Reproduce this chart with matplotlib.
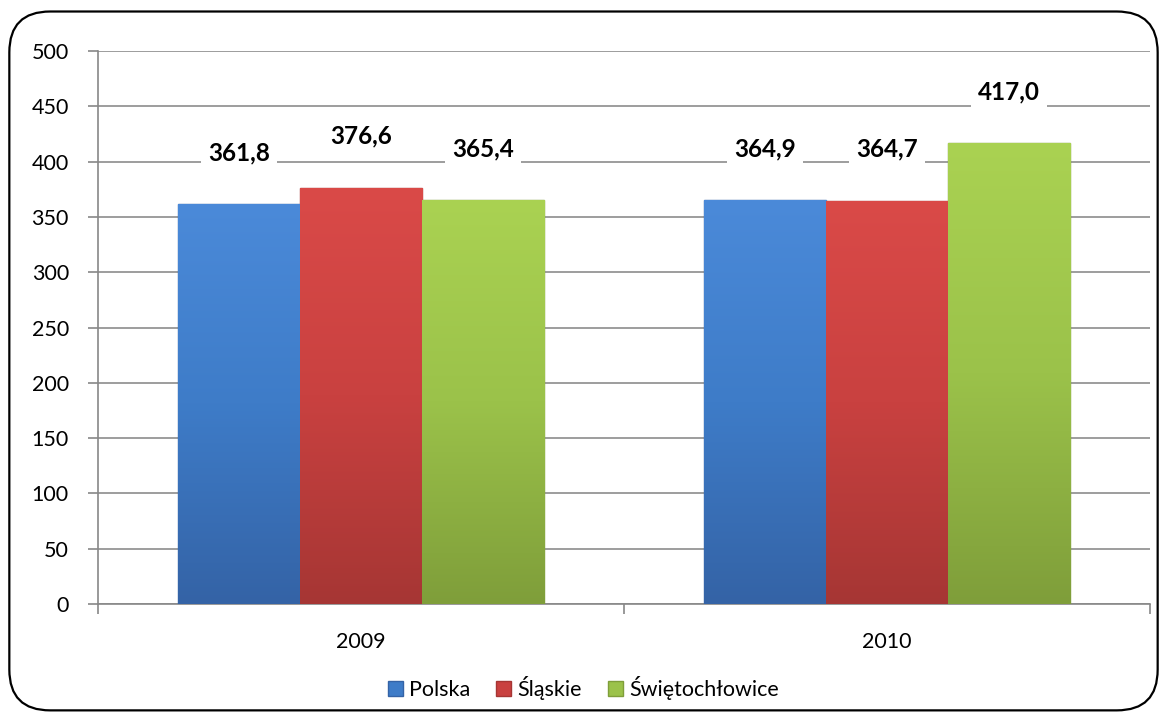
import numpy as np
import matplotlib.pyplot as plt
from matplotlib.patches import FancyBboxPatch
from matplotlib.colors import LinearSegmentedColormap

plt.rcParams['font.family'] = ['Lato', 'DejaVu Sans']

years = ['2009', '2010']
series = ['Polska', 'Śląskie', 'Świętochłowice']
values = {
    'Polska': [361.8, 364.9],
    'Śląskie': [376.6, 364.7],
    'Świętochłowice': [365.4, 417.0],
}
labels = {
    'Polska': ['361,8', '364,9'],
    'Śląskie': ['376,6', '364,7'],
    'Świętochłowice': ['365,4', '417,0'],
}
# top, middle, bottom colours of the gradient
colours = {
    'Polska': ('#4b8ad9', '#3e7cc8', '#3463a6'),
    'Śląskie': ('#da4a48', '#c94140', '#a63634'),
    'Świętochłowice': ('#aad252', '#9bc24a', '#7f9e3a'),
}

fig = plt.figure(figsize=(11.67, 7.19), dpi=100)
ax = fig.add_axes([0.084, 0.16, 0.9014, 0.769])

# rounded frame round the whole chart
frame = FancyBboxPatch((0.008, 0.012), 0.984, 0.972, boxstyle='round,pad=0,rounding_size=0.035',
                       transform=fig.transFigure, fc='none', ec='black', lw=1.6,
                       mutation_aspect=1167 / 719)
fig.patches.append(frame)

x = np.arange(len(years))
w = 0.232
grad = np.linspace(0, 1, 256).reshape(-1, 1)

for i, s in enumerate(series):
    pos = x + (i - 1) * w
    bars = ax.bar(pos, values[s], w, color=colours[s][1], edgecolor=colours[s][2],
                  linewidth=1.0, zorder=3)
    cmap = LinearSegmentedColormap.from_list(s, [colours[s][2], colours[s][1], colours[s][0]])
    for b, lab in zip(bars, labels[s]):
        bx, by = b.get_x(), b.get_height()
        im = ax.imshow(grad, extent=[bx, bx + w, 0, by], origin='lower', aspect='auto',
                       cmap=cmap, zorder=3.5)
        im.set_clip_path(b)
        ax.annotate(lab, (bx + w / 2, by), xytext=(0, 37), textcoords='offset points',
                    ha='center', va='center', fontsize=17.5, fontweight='bold', zorder=5,
                    bbox=dict(fc='white', ec='none', pad=5))

ax.set_xlim(-0.5, 1.5)
ax.set_ylim(0, 500)
ax.set_yticks(np.arange(0, 501, 50))
ax.set_xticks([-0.5, 0.5, 1.5], minor=False)
ax.set_xticklabels([])
ax.set_xticks(x, minor=True)
ax.set_xticklabels(years, minor=True)
ax.tick_params(axis='x', which='minor', length=0, pad=20, labelsize=15.5)
ax.tick_params(axis='x', which='major', length=7, color='#888888', width=1.2)
ax.tick_params(axis='y', length=7, color='#888888', width=1.2, labelsize=15.5, pad=14)
ax.grid(axis='y', color='#8c8c8c', lw=1.2, zorder=0)
ax.set_axisbelow(True)
for k in ['top', 'right']:
    ax.spines[k].set_visible(False)
for k in ['left', 'bottom']:
    ax.spines[k].set_color('#888888')
    ax.spines[k].set_linewidth(1.2)

handles = [plt.Rectangle((0, 0), 1, 1, fc=colours[s][1], ec=colours[s][2]) for s in series]
fig.legend(handles, series, loc='center', bbox_to_anchor=(0.5, 0.043), ncol=3, frameon=False,
           fontsize=15.5, handlelength=0.7, handleheight=0.7, handletextpad=0.3, columnspacing=1.2)

fig.savefig('out.png', dpi=100)
